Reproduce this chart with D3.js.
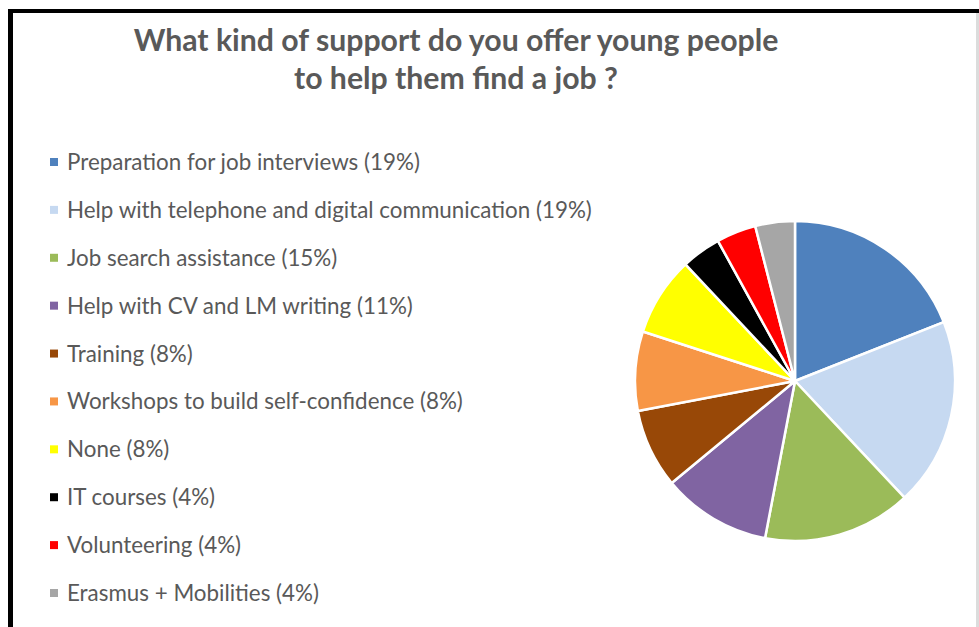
<!DOCTYPE html>
<html>
<head>
<meta charset="utf-8">
<script src="https://cdn.jsdelivr.net/npm/d3@7/dist/d3.min.js"></script>
<style>
  html, body { margin: 0; padding: 0; background: #ffffff; }
  svg { display: block; }
</style>
</head>
<body>
<svg id="chart" width="979" height="627"></svg>
<script>
// Survey answers: share of organisations offering each kind of support (%)
const categories = [
  "Preparation for job interviews",
  "Help with telephone and digital communication",
  "Job search assistance",
  "Help with CV and LM writing",
  "Training",
  "Workshops to build self-confidence",
  "None",
  "IT courses",
  "Volunteering",
  "Erasmus + Mobilities"
];
const shares = [19, 19, 15, 11, 8, 8, 8, 4, 4, 4];
const sliceColors = [
  "#4F81BD", "#C6D9F1", "#9BBB59", "#8064A2", "#984807",
  "#F79646", "#FFFF00", "#000000", "#FF0000", "#A6A6A6"
];
const titleLines = [
  "What kind of support do you offer young people",
  "to help them find a job ?"
];

const svg = d3.select("#chart");
const W = 979, H = 627;
const textColor = "#595959";
const fontFamily = "Lato, 'Open Sans', 'Liberation Sans', sans-serif";

// frame: heavy black top and left edges, faint grey right edge
svg.append("rect").attr("x", 0).attr("y", 0).attr("width", W).attr("height", H).attr("fill", "#ffffff");
svg.append("rect").attr("x", 8).attr("y", 9).attr("width", W - 8).attr("height", 4).attr("fill", "#000");
svg.append("rect").attr("x", 8).attr("y", 9).attr("width", 5).attr("height", H - 9).attr("fill", "#000");
svg.append("rect").attr("x", 976).attr("y", 13).attr("width", 3).attr("height", H - 13).attr("fill", "#dcdcdc");

// fit a text element's font size so that it spans the given width
function fitWidth(sel, width, base) {
  sel.attr("font-size", base);
  const w = sel.node().getComputedTextLength();
  const size = base * width / w;
  sel.attr("font-size", size);
  return size;
}

// title
const titleCx = 456;
const t1 = svg.append("text")
  .attr("x", titleCx).attr("y", 51)
  .attr("text-anchor", "middle")
  .attr("font-family", fontFamily).attr("font-weight", 700)
  .attr("fill", textColor)
  .text(titleLines[0]);
const titleSize = fitWidth(t1, 645, 26);
svg.append("text")
  .attr("x", titleCx).attr("y", 89)
  .attr("text-anchor", "middle")
  .attr("font-family", fontFamily).attr("font-weight", 700)
  .attr("font-size", titleSize)
  .attr("fill", textColor)
  .text(titleLines[1]);

// legend
const legendY = d3.scalePoint()
  .domain(categories)
  .range([161, 592]);

const legend = svg.append("g").attr("class", "legend");
const items = legend.selectAll("g")
  .data(categories)
  .join("g")
  .attr("transform", d => `translate(0,${legendY(d)})`);

items.append("rect")
  .attr("x", 50).attr("y", -3)
  .attr("width", 8).attr("height", 8)
  .attr("fill", (d, i) => sliceColors[i]);

const labels = items.append("text")
  .attr("x", 67).attr("y", 9)
  .attr("font-family", fontFamily)
  .attr("fill", textColor)
  .text((d, i) => `${d} (${shares[i]}%)`);

// size all legend labels from the longest one
const longest = labels.filter((d, i) => i === 1);
const legendSize = fitWidth(longest, 525, 20);
labels.attr("font-size", legendSize);

// pie
const cx = 795, cy = 381, r = 160;
const pie = d3.pie().sort(null).value(d => d)(shares);
const arc = d3.arc().innerRadius(0).outerRadius(r);

svg.append("g")
  .attr("transform", `translate(${cx},${cy})`)
  .selectAll("path")
  .data(pie)
  .join("path")
  .attr("d", arc)
  .attr("fill", (d, i) => sliceColors[i])
  .attr("stroke", "#ffffff")
  .attr("stroke-width", 2.5)
  .attr("stroke-linejoin", "round");
</script>
</body>
</html>
